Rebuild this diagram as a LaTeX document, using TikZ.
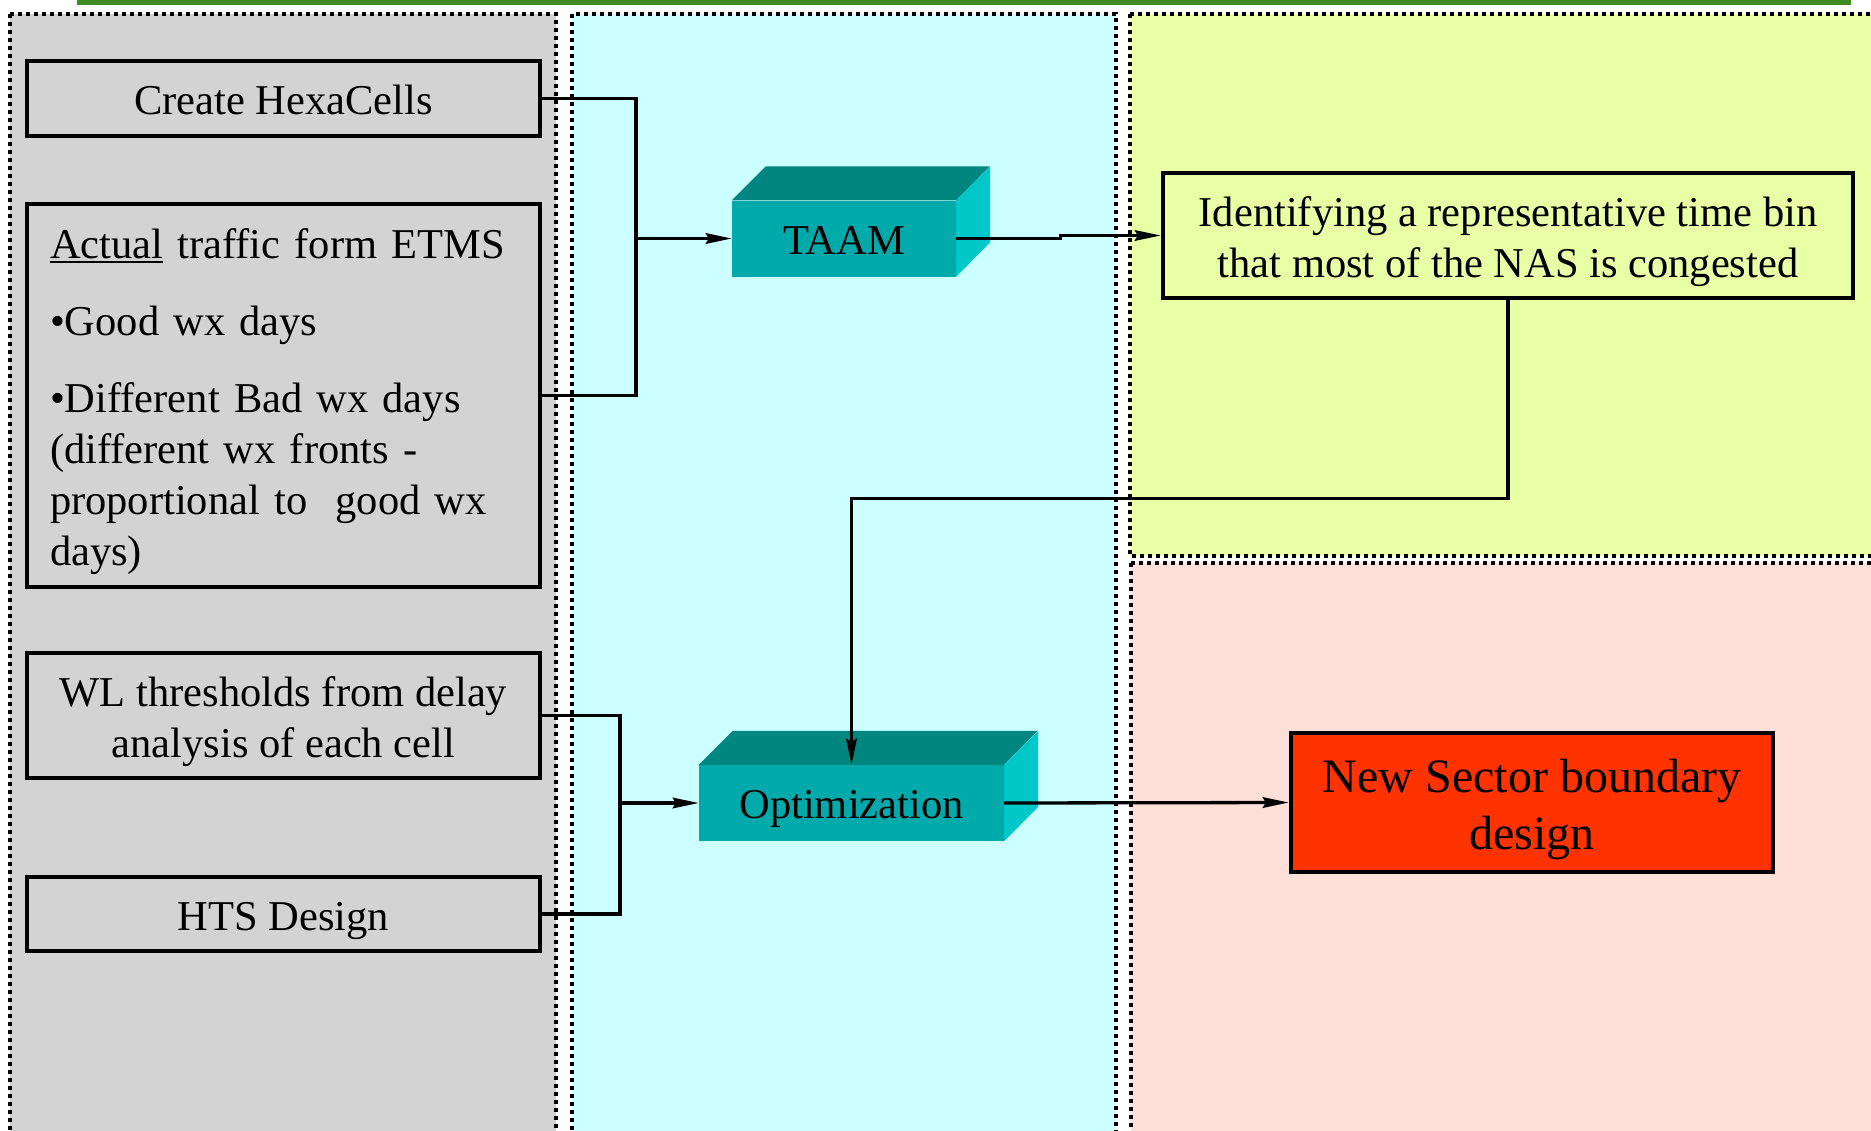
\documentclass[tikz,border=0pt]{standalone}
\usepackage{fontspec}
\setmainfont{Liberation Serif}
\usetikzlibrary{arrows.meta}
\definecolor{panelgray}{RGB}{211,211,211}
\definecolor{panelcyan}{RGB}{204,255,255}
\definecolor{panelyellow}{RGB}{232,255,166}
\definecolor{panelpink}{RGB}{255,224,216}
\definecolor{topgreen}{RGB}{64,138,34}
\definecolor{tealfront}{RGB}{0,170,170}
\definecolor{tealtop}{RGB}{0,134,128}
\definecolor{tealside}{RGB}{0,200,200}
\definecolor{resultred}{RGB}{255,51,0}
% underline with a rule sized for the large type
\newcommand\thickul[1]{\setbox0\hbox{#1}\rlap{\rule[-5pt]{\wd0}{2pt}}\box0\relax}

\begin{document}
\begin{tikzpicture}[x=1pt,y=-1pt,
  txt/.style={font=\fontsize{42.5}{51}\selectfont, inner sep=0pt, align=center},
  bigtxt/.style={font=\fontsize{48}{57}\selectfont, inner sep=0pt, align=center},
  panel/.style={line width=4pt, dash pattern=on 4pt off 4pt},
  frame/.style={draw, line width=4.3pt, inner sep=0pt},
  inbox/.style={frame, fill=panelgray, minimum width=513pt},
  block/.style={fill=tealfront, minimum width=224pt, minimum height=76pt, inner sep=0pt},
  link/.style={line width=3.3pt},
  arr/.style={link, -{Stealth[length=26pt,width=10.5pt,inset=3pt]}},
]
\useasboundingbox (0,0) rectangle (1871,1130);

% background panels
\begin{scope}
  \clip (0,0) rectangle (1871,1130);
  \fill[white] (0,0) rectangle (1871,1130);
  \fill[topgreen] (77,0) rectangle (1851,4.5);
  \filldraw[panel, fill=panelgray] (10,14) rectangle (556,1150);
  \filldraw[panel, fill=panelcyan] (572,14) rectangle (1116,1150);
  \filldraw[panel, fill=panelyellow] (1130,14) rectangle (1890,556);
  \filldraw[panel, fill=panelpink] (1131,563) rectangle (1890,1150);
\end{scope}

% input boxes
\node[inbox, minimum height=75pt] (hexa) at (283.5,98.5) {};
\node[txt, yshift=-1pt] (hexa-text) at (hexa.center) {Create HexaCells};

\node[inbox, minimum height=383pt] (etms) at (283.5,395.5) {};
\node[txt, align=left, text width=467pt, yshift=-6pt] (etms-text) at (etms.center)
  {\thickul{Actual} traffic form ETMS\\[26pt]
   \textbullet Good wx days\\[26pt]
   \textbullet Different Bad wx days\\
   (different wx fronts -\\
   proportional to\ \ good wx\\
   days)};

\node[inbox, minimum height=125pt] (wl) at (283.5,715.5) {};
\node[txt, yshift=-6pt] (wl-text) at (wl.center) {WL thresholds from delay\\analysis of each cell};

\node[inbox, minimum height=74pt] (hts) at (283.5,914) {};
\node[txt, yshift=-7pt] (hts-text) at (hts.center) {HTS Design};

% 3D process blocks
\node[block] (taam) at (844,238.5) {};
\fill[tealtop] (taam.north west) -- ++(34,-34) -- ++(224,0) -- (taam.north east) -- cycle;
\fill[tealside] (taam.north east) -- ++(34,-34) -- ++(0,76) -- (taam.south east) -- cycle;
\node[txt, yshift=-2pt] (taam-text) at (taam.center) {TAAM};

\node[block, minimum width=305pt] (opt) at (851.5,803) {};
\fill[tealtop] (opt.north west) -- ++(34,-34) -- ++(305,0) -- (opt.north east) -- cycle;
\fill[tealside] (opt.north east) -- ++(34,-34) -- ++(0,76) -- (opt.south east) -- cycle;
\node[txt, yshift=-6pt] (opt-text) at (opt.center) {Optimization};

% result boxes
\node[frame, fill=panelyellow, minimum width=690pt, minimum height=125pt] (ident) at (1508,235.5) {};
\node[txt, yshift=-6pt] (ident-text) at (ident.center)
  {Identifying a representative time bin\\that most of the NAS is congested};

\node[frame, fill=resultred, minimum width=482pt, minimum height=139pt] (newsec) at (1532,802.5) {};
\node[bigtxt, yshift=-7pt] (newsec-text) at (newsec.center) {New Sector boundary\\design};

% connectors
\coordinate (j1) at (636,238.5);
\draw[link] (hexa.east) -| (j1);
\draw[link] (etms.east) -| (j1);
\draw[arr] (j1) -- (taam.west);
\draw[arr] (taam.east) -- ++(104,0) |- (ident.west);
\draw[arr] (ident.south) -- ++(0,198) -| (opt.north);

\coordinate (j2) at (620,803);
\draw[link] (wl.east) -| (j2);
\draw[link] (hts.east) -| (j2);
\draw[arr] (j2) -- (opt.west);
\draw[arr] (opt.east) -- (newsec.west);
\end{tikzpicture}
\end{document}
